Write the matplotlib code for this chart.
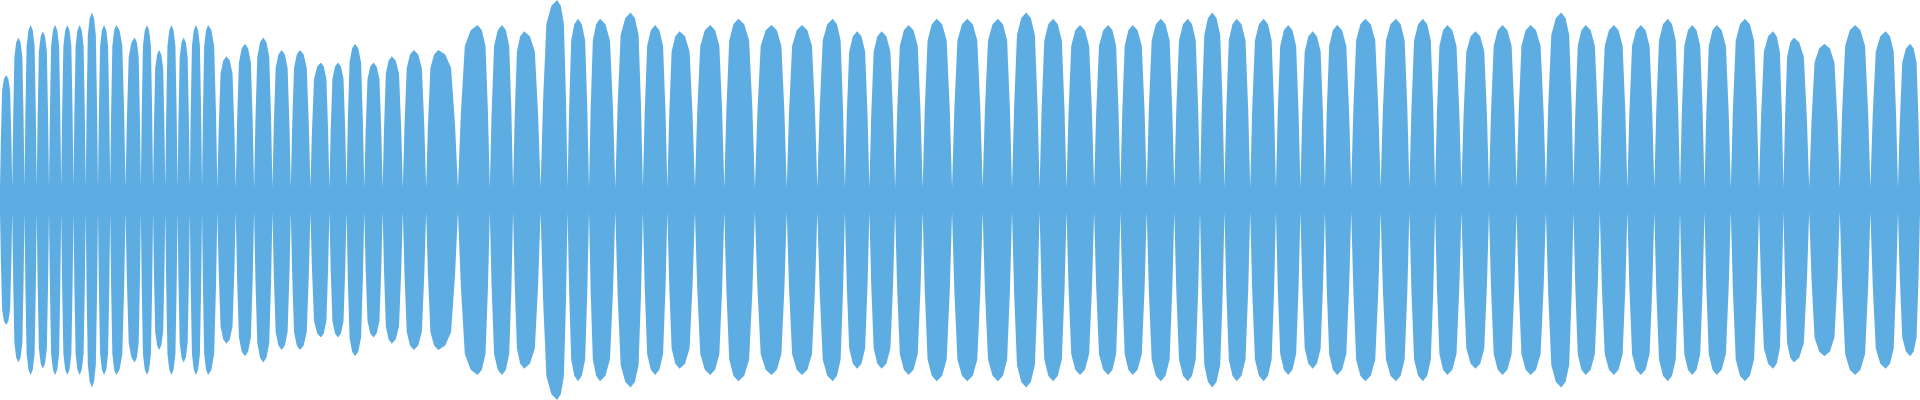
import numpy as np
import matplotlib.pyplot as plt

# lobe centres (px in a 1568-wide frame) and peak heights (px from top, centre at 160)
peak_x = [5, 15, 25, 35, 45, 55, 65, 75, 85, 95, 110, 120, 130, 140, 150, 160, 170, 185,
          200, 215, 230, 245, 262, 276, 290, 305, 320, 338, 358, 390, 410, 428, 455, 472,
          490, 515, 535, 555, 580, 603, 630, 655, 680, 700, 720, 742, 765, 790, 815, 838,
          860, 882, 905, 925, 948, 970, 990, 1010, 1032, 1052, 1072, 1092, 1115, 1140,
          1162, 1182, 1205, 1227, 1250, 1275, 1295, 1318, 1340, 1362, 1382, 1402, 1425,
          1448, 1465, 1490, 1515, 1540, 1560]
peak_top = [60, 30, 20, 25, 20, 20, 20, 10, 20, 20, 30, 20, 40, 20, 30, 20, 20, 45,
            35, 30, 40, 40, 50, 50, 35, 50, 45, 40, 40, 20, 20, 25, 0, 15,
            15, 10, 20, 25, 20, 15, 20, 20, 15, 25, 25, 20, 15, 15, 15, 10,
            15, 20, 20, 20, 15, 15, 10, 15, 15, 20, 25, 20, 15, 15,
            15, 20, 25, 20, 20, 10, 20, 20, 20, 15, 20, 20, 15,
            25, 30, 35, 20, 25, 35]
valley_amp = 0.06

amp = [(160 - t) / 160 for t in peak_top]

xs, ys = [0], [valley_amp]
for i, (px, a) in enumerate(zip(peak_x, amp)):
    left = px - (px - peak_x[i - 1]) / 2 if i > 0 else 0
    right = (peak_x[i + 1] + px) / 2 if i < len(peak_x) - 1 else 1568
    wl, wr = px - left, right - px
    xs += [left, px - 0.85 * wl, px - 0.65 * wl, px - 0.35 * wl, px,
           px + 0.35 * wr, px + 0.65 * wr, px + 0.85 * wr, right]
    ys += [valley_amp, 0.5 * a, 0.88 * a, 0.97 * a, a,
           0.97 * a, 0.88 * a, 0.5 * a, valley_amp]
xs = np.array(xs)
ys = np.array(ys)

fig = plt.figure(figsize=(19.2, 4), dpi=100)
ax = fig.add_axes([0, 0, 1, 1])
ax.fill_between(xs, -ys, ys, color='#5dade2', linewidth=0)
ax.set_xlim(0, 1568)
ax.set_ylim(-1.0, 1.0)
ax.axis('off')
fig.savefig('out.png', dpi=100)
